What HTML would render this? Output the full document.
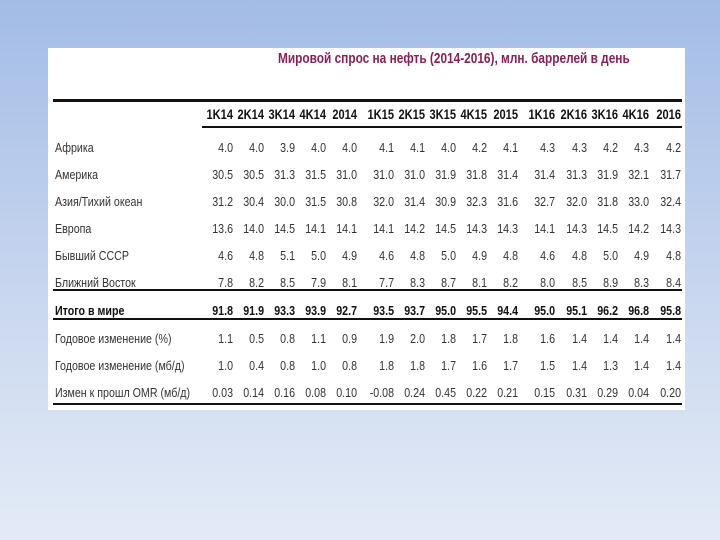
<!DOCTYPE html>
<html><head><meta charset="utf-8"><style>
body{margin:0;width:720px;height:540px;overflow:hidden;background:linear-gradient(#a3bce6,#c9d7ef 55%,#e4ebf7);font-family:"Liberation Sans",sans-serif;position:relative}
#box{position:absolute;left:48px;top:48px;width:637px;height:362px;background:#fff}
.t{position:absolute;white-space:nowrap;font-size:13px;color:#333;transform:scaleX(0.82);transform-origin:left center}
.r{text-align:right;width:44px;transform-origin:right center}
.h{font-weight:bold;color:#111}
.ln{position:absolute;background:#111}
</style></head><body>
<div id="box"></div>
<div class="t" style="left:278px;top:50px;font-size:15px;font-weight:bold;color:#8b1f55;transform:scaleX(0.79)">Мировой спрос на нефть (2014-2016), млн. баррелей в день</div>
<div class="ln" style="left:53px;top:99px;width:629px;height:3px"></div>
<div class="ln" style="left:202px;top:126px;width:480px;height:2px"></div>
<div class="ln" style="left:53px;top:289px;width:629px;height:2px"></div>
<div class="ln" style="left:53px;top:318px;width:629px;height:2px"></div>
<div class="ln" style="left:53px;top:403px;width:629px;height:2px"></div>
<div id="g"></div>
<script>
const xs=[233,264,295,326,357,394,425,456,487,518,555,587,618,649,681];
const head=["1K14","2K14","3K14","4K14","2014","1K15","2K15","3K15","4K15","2015","1K16","2K16","3K16","4K16","2016"];
const rows=[
["Африка",140,"4.0 4.0 3.9 4.0 4.0 4.1 4.1 4.0 4.2 4.1 4.3 4.3 4.2 4.3 4.2"],
["Америка",167,"30.5 30.5 31.3 31.5 31.0 31.0 31.0 31.9 31.8 31.4 31.4 31.3 31.9 32.1 31.7"],
["Азия/Тихий океан",194,"31.2 30.4 30.0 31.5 30.8 32.0 31.4 30.9 32.3 31.6 32.7 32.0 31.8 33.0 32.4"],
["Европа",221,"13.6 14.0 14.5 14.1 14.1 14.1 14.2 14.5 14.3 14.3 14.1 14.3 14.5 14.2 14.3"],
["Бывший СССР",248,"4.6 4.8 5.1 5.0 4.9 4.6 4.8 5.0 4.9 4.8 4.6 4.8 5.0 4.9 4.8"],
["Ближний Восток",275,"7.8 8.2 8.5 7.9 8.1 7.7 8.3 8.7 8.1 8.2 8.0 8.5 8.9 8.3 8.4"],
["Итого в мире",303,"91.8 91.9 93.3 93.9 92.7 93.5 93.7 95.0 95.5 94.4 95.0 95.1 96.2 96.8 95.8",1],
["Годовое изменение (%)",331,"1.1 0.5 0.8 1.1 0.9 1.9 2.0 1.8 1.7 1.8 1.6 1.4 1.4 1.4 1.4"],
["Годовое изменение (мб/д)",358,"1.0 0.4 0.8 1.0 0.8 1.8 1.8 1.7 1.6 1.7 1.5 1.4 1.3 1.4 1.4"],
["Измен к прошл OMR (мб/д)",385,"0.03 0.14 0.16 0.08 0.10 -0.08 0.24 0.45 0.22 0.21 0.15 0.31 0.29 0.04 0.20"]];
let h='';
head.forEach((s,i)=>h+=`<div class="t r h" style="left:${xs[i]-44}px;top:107px;font-size:13.5px">${s}</div>`);
rows.forEach(r=>{
 const b=r[3]?'font-weight:bold;color:#111;':'';
 h+=`<div class="t" style="left:55px;top:${r[1]}px;${b}">${r[0]}</div>`;
 r[2].split(' ').forEach((v,i)=>h+=`<div class="t r" style="left:${xs[i]-44}px;top:${r[1]}px;${b}">${v}</div>`);
});
document.getElementById('g').innerHTML=h;
</script>
</body></html>
